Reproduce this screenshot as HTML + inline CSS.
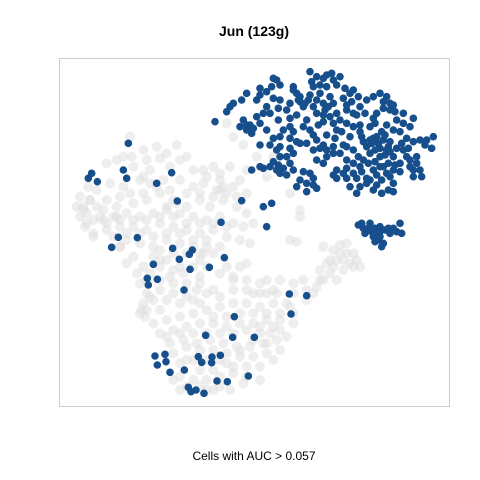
<!DOCTYPE html>
<html><head><meta charset="utf-8"><style>
html,body{margin:0;padding:0;background:#fff;}
svg{display:block;font-family:"Liberation Sans",Arial,sans-serif;}
</style></head><body>
<svg id="chart" width="480" height="480" viewBox="0 0 480 480">
<rect x="0" y="0" width="480" height="480" fill="#fff"/>
<text x="254" y="36" text-anchor="middle" font-size="14" font-weight="bold" fill="#000">Jun (123g)</text>
<rect x="59.5" y="58.5" width="390" height="348" fill="none" stroke="#cccccc" stroke-width="1"/>
<g id="grey"></g>
<g id="blue"></g>
<text x="254" y="460" text-anchor="middle" font-size="12" fill="#000">Cells with AUC &gt; 0.057</text>
</svg>
<script>
// embedding coordinates (dim1, dim2); dim2 axis increases downward
var greyX=[210,250,290,350,380,300,260,190,140,220,270,330,400,430,460,510,480,520,500,470,430,400,360,310,270,240,190,150,110,85,60,50,80,110,140,180,220,260,300,340,380,420,450,490,530,560,580,550,520,480,440,400,360,320,280,240,200,160,120,80,60,100,140,180,220,260,300,340,380,420,460,500,540,570,200,240,280,320,360,400,440,480,220,250,280,320,360,420,460,230,270,330,370,420,480,520,240,300,460,690,710,720,790,820,840,860,830,800,780,810,850,870,890,900,790,830,770,880,860,620,660,700,730,650,600,560,520,480,440,400,360,300,260,240,280,320,360,400,440,480,520,560,600,640,680,700,660,620,580,540,500,460,420,380,340,300,330,370,410,450,490,530,570,610,650,680,660,620,580,540,500,460,420,380,340,360,400,440,520,560,600,640,600,550,510,460,420,340,380,480,630,600,690,740,500,520,550,590,640,690,720,620,560,90,70,130,170,245,255,480,490,215,75,100,320,350,180,560,270,410,250,300,430,
170,320,360,440,480,540,560,530,460,420,380,330,290,250,210,170,130,90,70,100,140,180,220,260,300,340,380,420,460,500,160,200,240,280,320,360,400,440,180,300,340,380,420,200,300,340,400,440,260,340,380,420,460,500,540,580,620,660,640,600,560,520,480,440,400,360,320,380,420,460,500,540,580,620,660,700,700,740,760,780,810,820,850,840,880,440,480,400,360,520,560,440,480,360,580,620,560,600,520,500,540,640,420,380,340,300,260,250,280,320];
var greyY=[230,270,260,255,290,295,300,290,310,320,330,320,330,330,320,320,360,380,400,390,370,380,360,360,370,360,380,370,390,380,410,440,460,440,420,410,430,420,400,420,440,420,440,420,440,460,490,500,490,470,480,470,460,450,460,470,460,470,470,490,470,520,510,500,500,510,490,500,510,520,510,530,540,550,540,550,560,540,550,560,560,560,590,620,590,600,620,600,580,640,640,650,640,650,640,650,670,690,690,540,545,470,560,570,555,580,600,610,630,640,630,610,600,620,660,660,680,580,550,660,660,670,660,700,700,690,690,710,700,720,730,750,750,760,790,780,770,760,750,740,730,730,740,730,730,790,780,780,790,790,800,790,790,800,810,820,850,840,850,840,850,860,860,850,840,830,870,880,890,890,910,930,930,900,880,950,960,960,940,920,920,900,960,970,990,990,980,960,980,950,820,820,740,720,190,230,255,290,290,400,450,350,330,420,450,480,470,750,770,390,380,290,500,530,440,430,560,610,710,690,350,600,580,
300,280,300,350,340,360,400,410,410,400,400,390,380,400,400,440,450,420,440,480,490,480,480,480,470,470,490,490,490,500,530,520,520,530,520,520,540,540,560,570,580,580,580,610,620,630,620,620,700,700,710,730,770,770,760,760,760,760,800,800,810,820,820,820,820,820,830,860,870,870,880,870,840,850,810,760,700,690,700,660,600,620,600,580,620,900,900,900,910,920,950,990,980,990,700,700,660,670,660,620,620,690,670,670,670,660,660,730,720,720];
var blueX=[640,635,660,750,755,800,815,840,760,780,800,830,855,880,700,710,720,750,780,810,850,875,560,590,600,640,520,545,500,510,630,655,680,720,735,760,795,820,830,860,900,920,960,970,990,1005,890,915,950,1010,1030,1060,1050,465,550,570,580,560,600,620,655,690,710,740,750,775,790,820,845,900,945,640,660,690,710,660,690,630,600,770,790,800,820,850,825,780,905,930,950,970,990,960,1040,1060,1100,1120,1115,1045,1040,1070,930,980,1000,895,640,655,670,690,660,630,575,610,730,750,760,720,710,740,770,830,860,900,925,940,970,1000,1020,1080,1085,830,860,890,920,950,990,1000,920,950,890,965,985,770,790,800,610,635,620,940,955,975,965,985,895,910,930,945,960,975,1000,1020,1025,915,940,955,970,965,990,205,190,85,95,112,200,290,335,352,545,483,175,232,155,338,397,358,388,280,493,448,390,262,292,265,372,688,740,693,523,437,518,583,285,315,318,292,330,373,415,425,456,455,481,565,471,502,385,393,408,432,
700,715,730,745,770,790,805,770,790,810,840,860,880,900,910,920,935,945,960,975,990,1010,1025,1030,1050,1070,1060,1020,1005,985,960,945,910,880,860,840,820,760,740,720,700,680,660,650,670,690,700,730,760,800,830,870,860,880,990,970,940,930,980,1000,1020,1080,1095,560,575,540,590,610,620,660,690,600,620,650,770,790,820,870,895,940,980,1000,1030,860,880,600,650,680,700,740,760,820,850,880,905,930,965,980,1060,1050,870,900,1000,940,905,925,935,950,960,985,1010,945,960];
var blueY=[55,80,75,35,65,45,40,50,80,75,80,75,85,90,80,100,110,105,100,110,115,125,100,120,105,115,130,120,155,140,160,145,150,125,130,140,150,130,160,150,140,120,100,125,130,155,165,160,160,180,190,175,200,185,180,195,205,210,190,210,180,175,165,180,210,195,185,190,215,195,190,235,230,235,245,260,265,255,255,240,255,270,260,255,235,265,230,240,230,240,245,265,235,245,240,230,265,265,290,290,280,270,290,290,305,315,325,310,340,320,330,325,335,340,355,360,380,395,385,330,325,320,310,330,320,330,335,330,350,355,355,355,355,345,350,370,370,375,400,400,390,300,310,290,440,430,500,235,250,225,215,260,495,505,490,505,500,510,505,490,520,520,530,540,550,560,520,250,330,355,340,365,355,370,338,423,422,487,532,533,562,565,570,598,583,613,593,622,628,655,658,675,690,702,707,762,770,826,832,832,888,883,905,915,937,930,890,907,891,908,886,948,963,965,982,995,990,1000,
90,120,140,120,120,130,140,160,165,170,180,190,200,215,245,260,250,270,290,285,275,265,250,270,300,310,330,310,315,310,320,305,300,310,300,280,280,270,250,250,280,290,290,270,210,200,215,200,225,225,210,230,260,270,150,145,175,200,195,210,215,240,255,195,220,200,170,160,140,120,130,85,95,60,50,55,60,100,110,110,110,135,160,135,160,320,330,345,330,370,375,345,340,340,335,360,360,340,350,320,380,380,395,390,490,505,515,520,515,505,515,545,530];
var x0=60, y0=60, k=3;
function sx(v){return x0+v/k;}
function sy(v){return y0+v/k;}
var NS='http://www.w3.org/2000/svg';
var gG=document.getElementById('grey'), gB=document.getElementById('blue');
for(var i=0;i<greyX.length;i++){
  var c=document.createElementNS(NS,'circle');
  c.setAttribute('cx',sx(greyX[i]));c.setAttribute('cy',sy(greyY[i]));c.setAttribute('r',5);
  c.setAttribute('fill','#dddddd');c.setAttribute('fill-opacity','0.5');
  
  
  gG.appendChild(c);
}
for(var j=0;j<blueX.length;j++){
  var b=document.createElementNS(NS,'circle');
  b.setAttribute('cx',sx(blueX[j]));b.setAttribute('cy',sy(blueY[j]));b.setAttribute('r',3.8);
  b.setAttribute('fill','#164f8b');
  
  
  gB.appendChild(b);
}
</script>
</body></html>
